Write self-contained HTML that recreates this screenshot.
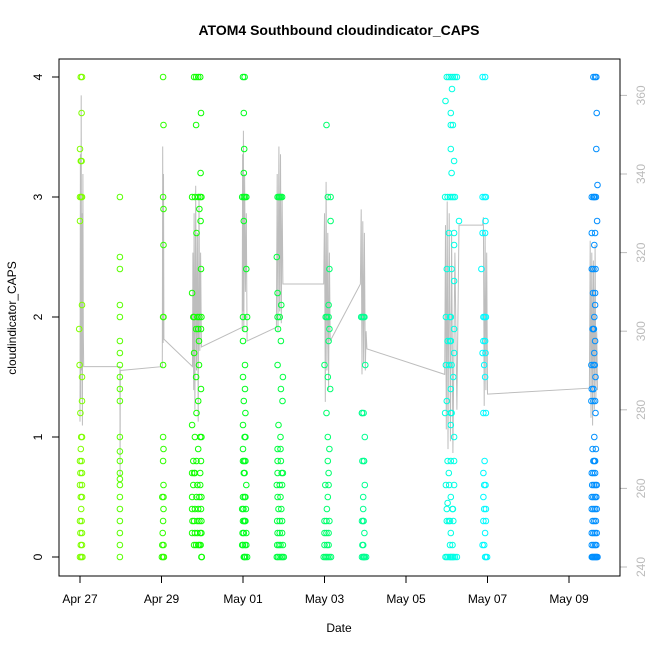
<!DOCTYPE html>
<html><head><meta charset="utf-8"><style>
html,body{margin:0;padding:0;background:#fff;}
svg{display:block;font-family:"Liberation Sans",sans-serif;}
</style></head><body>
<svg id="chart" width="650" height="650" viewBox="0 0 650 650">
<text x="339" y="35" text-anchor="middle" font-size="14" font-weight="bold">ATOM4 Southbound cloudindicator_CAPS</text>
<text x="339" y="632" text-anchor="middle" font-size="12">Date</text>
<text x="16" y="318" text-anchor="middle" font-size="12" transform="rotate(-90 16 318)">cloudindicator_CAPS</text>
<g id="gray"></g>
<g id="pts"></g>
<g id="axes"></g>
<rect x="59" y="59" width="561" height="517" fill="none" stroke="#000" stroke-width="1"/>
</svg>
<script>
const xTickLabels = ["Apr 27","Apr 29","May 01","May 03","May 05","May 07","May 09"];
const xTickDays = [0,2,4,6,8,10,12];
const yTicks = [0,1,2,3,4];
const y2Ticks = [240,260,280,300,320,340,360];
// days since Apr 27 00:00
const obsDay = [
// Apr 27
0.02,0.05,0.04,0.0,0.02,0.04,0.0,0.03,0.05,0.0,0.05,-0.02,-0.01,0.05,0.05,0.01,0.03,0.05,0.02,0.0,0.04,0.01,0.05,0.0,0.05,0.02,0.05,0.03,0.0,0.04,0.01,0.05,0.02,0.05,0.0,0.03,0.06,
// Apr 28
0.98,0.98,0.98,0.98,0.98,0.98,0.98,0.98,0.98,0.98,0.98,0.98,0.98,0.98,0.98,0.98,0.98,0.98,0.98,0.98,0.98,0.98,0.98,
// Apr 29
2.04,2.05,2.04,2.05,2.05,2.04,2.05,2.04,2.04,2.05,2.04,2.05,2.02,2.05,2.05,2.04,2.03,2.02,2.05,2.01,2.04,2.06,
// Apr 29 late
2.8,2.85,2.9,2.95,2.97,2.85,2.96,2.75,2.82,2.9,2.95,2.98,2.93,2.96,2.86,2.97,2.75,2.8,2.88,2.93,2.98,2.78,2.9,2.97,2.85,2.92,2.8,2.92,2.85,2.97,2.9,2.86,2.75,2.82,2.95,2.98,2.9,2.78,2.86,2.97,2.75,2.82,2.95,2.8,2.88,2.95,2.78,2.86,2.93,2.98,2.75,2.82,2.9,2.97,2.75,2.8,2.88,2.93,2.98,2.76,2.82,2.88,2.95,2.98,2.75,2.8,2.85,2.9,2.93,2.96,2.98,2.99,
// May 01
4.0,4.04,4.02,4.03,4.02,3.98,4.02,4.05,4.08,4.02,4.08,4.0,4.1,4.05,4.0,4.05,4.0,4.05,4.02,4.06,4.0,4.04,4.06,4.0,4.03,4.06,4.0,4.04,4.02,4.08,4.06,4.0,4.04,4.07,3.98,4.01,4.03,4.06,4.0,4.04,4.08,3.99,4.02,4.05,4.08,3.98,4.0,4.02,4.04,4.06,4.1,
// May 01 late
4.85,4.88,4.9,4.93,4.96,4.83,4.85,4.94,4.85,4.9,4.86,4.93,4.85,4.98,4.93,4.97,4.87,4.92,4.85,4.92,4.85,4.93,4.85,4.95,4.98,4.83,4.9,4.96,4.85,4.92,4.87,4.94,4.84,4.9,4.96,4.85,4.9,4.96,4.84,4.88,4.92,4.98,4.83,4.86,4.9,4.94,4.97,5.0,
// May 03
6.05,6.08,6.15,6.15,6.12,6.1,6.03,6.06,6.1,6.12,6.1,6.0,6.08,6.14,6.05,6.08,6.12,6.08,6.1,6.02,6.1,6.08,6.06,6.0,6.05,6.12,6.0,6.05,6.1,6.0,6.06,6.1,5.98,6.02,6.05,6.08,6.12,6.16,
// May 03 late
6.9,6.93,6.96,6.98,7.0,6.92,6.92,6.96,6.99,6.97,6.93,6.97,6.99,6.95,6.95,6.96,6.92,6.95,6.98,6.95,6.93,6.97,6.92,6.95,6.97,6.99,7.02,
// May 06
9.0,9.05,9.1,9.15,9.2,9.25,9.13,8.97,9.1,9.1,9.15,9.1,9.18,9.12,8.96,9.02,9.08,9.12,9.16,9.2,9.3,9.18,9.05,9.18,9.12,9.0,9.18,9.08,8.98,9.1,9.18,9.08,9.02,9.1,9.18,9.12,8.98,9.06,9.16,9.1,9.0,9.12,9.1,8.96,9.1,9.18,9.02,9.1,9.18,9.05,8.98,9.06,9.18,9.1,9.02,9.14,9.15,9.0,9.08,9.16,9.0,9.05,9.1,9.14,9.08,9.1,9.15,8.97,9.0,9.04,9.08,9.12,9.16,9.2,9.25,
// May 07
9.88,9.94,9.88,9.93,9.96,9.95,9.88,9.94,9.85,9.9,9.93,9.96,9.9,9.94,9.88,9.95,9.92,9.94,9.9,9.96,9.93,9.9,9.95,9.92,9.9,9.96,9.92,9.96,9.9,9.94,9.88,9.92,9.94,9.96,9.99,
// May 09
12.6,12.64,12.67,12.68,12.67,12.7,12.61,12.56,12.6,12.63,12.66,12.69,12.64,12.56,12.62,12.65,12.56,12.6,12.64,12.59,12.64,12.62,12.6,12.58,12.61,12.64,12.62,12.63,12.55,12.6,12.65,12.6,12.56,12.6,12.64,12.55,12.6,12.65,12.62,12.66,12.58,12.62,12.6,12.64,12.56,12.6,12.64,12.57,12.61,12.65,12.68,12.56,12.6,12.64,12.67,12.56,12.6,12.64,12.68,12.58,12.62,12.66,12.56,12.6,12.64,12.68,12.56,12.6,12.64,12.67,12.56,12.58,12.6,12.62,12.64,12.66,12.68,12.7
];
const obsVal = [
4,4,3.7,3.4,3.3,3.3,3,3,3,2.8,2.1,1.9,1.6,1.5,1.3,1.2,1.0,1.0,0.9,0.8,0.8,0.7,0.7,0.6,0.6,0.5,0.5,0.4,0.3,0.3,0.2,0.2,0.1,0.1,0,0,0,
3.0,2.5,2.4,2.1,2.0,1.8,1.7,1.6,1.5,1.4,1.3,1.0,0.88,0.8,0.7,0.65,0.6,0.5,0.4,0.3,0.2,0.1,0,
4,3.6,3.0,2.9,2.6,2.0,2.0,1.6,1.0,0.9,0.8,0.6,0.5,0.5,0.4,0.3,0.2,0.1,0.1,0,0,0,
4,4,4,4,3.7,3.6,3.2,3.0,3.0,3.0,3.0,3.0,2.9,2.8,2.7,2.4,2.2,2.0,2.0,2.0,2.0,2.0,1.9,1.9,1.9,1.8,1.7,1.6,1.5,1.4,1.3,1.2,1.1,1.0,1.0,1.0,0.9,0.8,0.8,0.8,0.7,0.7,0.7,0.7,0.6,0.6,0.6,0.5,0.5,0.5,0.5,0.4,0.4,0.4,0.4,0.3,0.3,0.3,0.3,0.3,0.2,0.2,0.2,0.2,0.2,0.1,0.1,0.1,0.1,0.1,0,0,
4,4,3.7,3.4,3.2,3.0,3.0,3.0,3.0,2.8,2.4,2.0,2.0,1.9,1.8,1.6,1.5,1.4,1.3,1.2,1.1,1.0,1.0,0.9,0.8,0.8,0.8,0.7,0.7,0.6,0.5,0.5,0.5,0.4,0.4,0.4,0.3,0.3,0.3,0.3,0.2,0.2,0.2,0.1,0.1,0.1,0.1,0,0,0,0,
3.0,3.0,3.0,3.0,3.0,2.5,2.2,2.1,2.0,2.0,1.9,1.8,1.6,1.5,1.4,1.3,1.1,1.0,0.9,0.9,0.8,0.8,0.7,0.7,0.7,0.6,0.6,0.6,0.5,0.5,0.4,0.4,0.3,0.3,0.3,0.2,0.2,0.2,0.1,0.1,0.1,0.1,0,0,0,0,0,0,
3.6,3.0,3.0,2.8,2.4,2.1,2.0,2.0,2.0,1.9,1.8,1.6,1.5,1.4,1.2,1.0,0.9,0.8,0.7,0.6,0.6,0.5,0.4,0.3,0.3,0.3,0.2,0.2,0.2,0.1,0.1,0.1,0,0,0,0,0,0,
2.0,2.0,2.0,2.0,1.6,1.2,1.2,1.2,1.0,0.8,0.8,0.8,0.6,0.5,0.4,0.3,0.3,0.3,0.2,0.1,0.1,0,0,0,0,0,0,
4,4,4,4,4,4,3.9,3.8,3.7,3.6,3.6,3.4,3.3,3.2,3.0,3.0,3.0,3.0,3.0,3.0,2.8,2.7,2.7,2.6,2.4,2.4,2.3,2.0,2.0,2.0,1.9,1.8,1.8,1.8,1.7,1.6,1.6,1.6,1.5,1.4,1.3,1.2,1.2,1.2,1.1,1.0,0.8,0.8,0.8,0.7,0.6,0.6,0.6,0.5,0.45,0.4,0.4,0.4,0.3,0.3,0.3,0.3,0.2,0.1,0.1,0,0,0,0,0,0,0,0,0,0,
4,4,3.0,3.0,3.0,2.8,2.7,2.7,2.4,2.0,2.0,2.0,1.8,1.8,1.7,1.7,1.6,1.5,1.2,1.2,0.8,0.7,0.6,0.6,0.5,0.4,0.4,0.3,0.3,0.2,0.1,0.1,0,0,0,
4,4,4,3.7,3.4,3.1,3.0,3.0,3.0,3.0,3.0,2.8,2.7,2.7,2.6,2.4,2.4,2.4,2.2,2.2,2.1,2.0,1.9,1.9,1.9,1.8,1.7,1.6,1.6,1.6,1.5,1.4,1.4,1.4,1.3,1.3,1.3,1.2,1.0,0.9,0.9,0.8,0.8,0.8,0.7,0.7,0.7,0.6,0.6,0.6,0.6,0.5,0.5,0.5,0.5,0.4,0.4,0.4,0.4,0.3,0.3,0.3,0.2,0.2,0.2,0.2,0.1,0.1,0.1,0.1,0,0,0,0,0,0,0,0
];
const grayDay = [0.0,0.01,0.02,0.03,0.04,0.05,0.06,0.07,0.08,0.09,0.98,0.985,0.99,2.02,2.03,2.04,2.05,2.06,2.76,2.77,2.79,2.8,2.82,2.84,2.86,2.88,2.9,2.92,2.94,2.96,2.98,3.98,3.99,4.0,4.01,4.02,4.04,4.06,4.08,4.1,4.82,4.84,4.86,4.88,4.9,4.92,4.94,4.96,4.98,5.98,6.0,6.02,6.04,6.06,6.08,6.1,6.12,6.14,6.88,6.9,6.92,6.94,6.96,6.98,7.0,7.02,7.04,8.95,8.97,8.99,9.01,9.03,9.06,9.09,9.12,9.15,9.2,9.25,9.3,9.88,9.9,9.92,9.94,9.96,9.98,10.0,12.5,12.52,12.54,12.56,12.58,12.6,12.62,12.64,12.66,12.68,12.7];
const grayVal = [277,345,283,360,290,330,276,340,300,291,291,263,290,291,347,297,340,298,291,320,285,330,280,337,290,325,277,335,295,320,296,301,345,305,351,300,340,310,330,297.5,301,340,300,347,305,345,302,335,312,312,330,282,338,290,325,285,320,297.5,312,331,289,328,292,325,290,300,295.5,289,327,275,333,270,330,272,325,269,320,280,327,327,329,281,325,285,320,284,285.5,323,278,320,276,318,280,322,283,300,285];

const NS = "http://www.w3.org/2000/svg";
const X = d => 80 + d * 40.75;
const Y = v => 557 - v * 120;
const Y2 = v => 567 - (v - 240) * 3.93;
function mk(tag, attrs, parent){const e=document.createElementNS(NS,tag);for(const k in attrs)e.setAttribute(k,attrs[k]);parent.appendChild(e);return e;}
function hueColor(d){const h=90+d*9.2;return "hsl("+h+",100%,50%)";}

const gG = document.getElementById("gray");
let pts = grayDay.map((d,i)=>X(d).toFixed(1)+","+Y2(grayVal[i]).toFixed(1)).join(" ");
const pl = mk("polyline",{points:pts,fill:"none",stroke:"#bdbdbd","stroke-width":"1"},gG);



const pG = document.getElementById("pts");
obsDay.forEach((d,i)=>{
  const c = mk("circle",{cx:X(d).toFixed(1),cy:Y(obsVal[i]).toFixed(1),r:"2.8",fill:"none",stroke:hueColor(d),"stroke-width":"1"},pG);
  
  
});

const aG = document.getElementById("axes");
const la = mk("line",{x1:59,x2:59,y1:Y(0),y2:Y(4),stroke:"#000"},aG);


yTicks.forEach(v=>{
  const t = mk("line",{x1:52,x2:59,y1:Y(v),y2:Y(v),stroke:"#000"},aG);
  
  
  const tx = mk("text",{x:42,y:Y(v),"text-anchor":"middle","font-size":"12",transform:"rotate(-90 42 "+Y(v)+")"},aG);
  tx.textContent = v;
  
  
});
const ra = mk("line",{x1:620,x2:620,y1:Y2(240),y2:Y2(360),stroke:"#bbb"},aG);


y2Ticks.forEach(v=>{
  const t = mk("line",{x1:620,x2:627,y1:Y2(v),y2:Y2(v),stroke:"#bbb"},aG);
  
  
  const tx = mk("text",{x:645,y:Y2(v),"text-anchor":"middle","font-size":"12",fill:"#bbb",transform:"rotate(-90 645 "+Y2(v)+")"},aG);
  tx.textContent = v;
  
  
});
const xa = mk("line",{x1:X(0),x2:X(12),y1:576,y2:576,stroke:"#000"},aG);


xTickDays.forEach((d,i)=>{
  const t = mk("line",{x1:X(d),x2:X(d),y1:576,y2:583,stroke:"#000"},aG);
  
  
  const tx = mk("text",{x:X(d),y:603,"text-anchor":"middle","font-size":"12"},aG);
  tx.textContent = xTickLabels[i];
  
  
});
</script>
</body></html>
